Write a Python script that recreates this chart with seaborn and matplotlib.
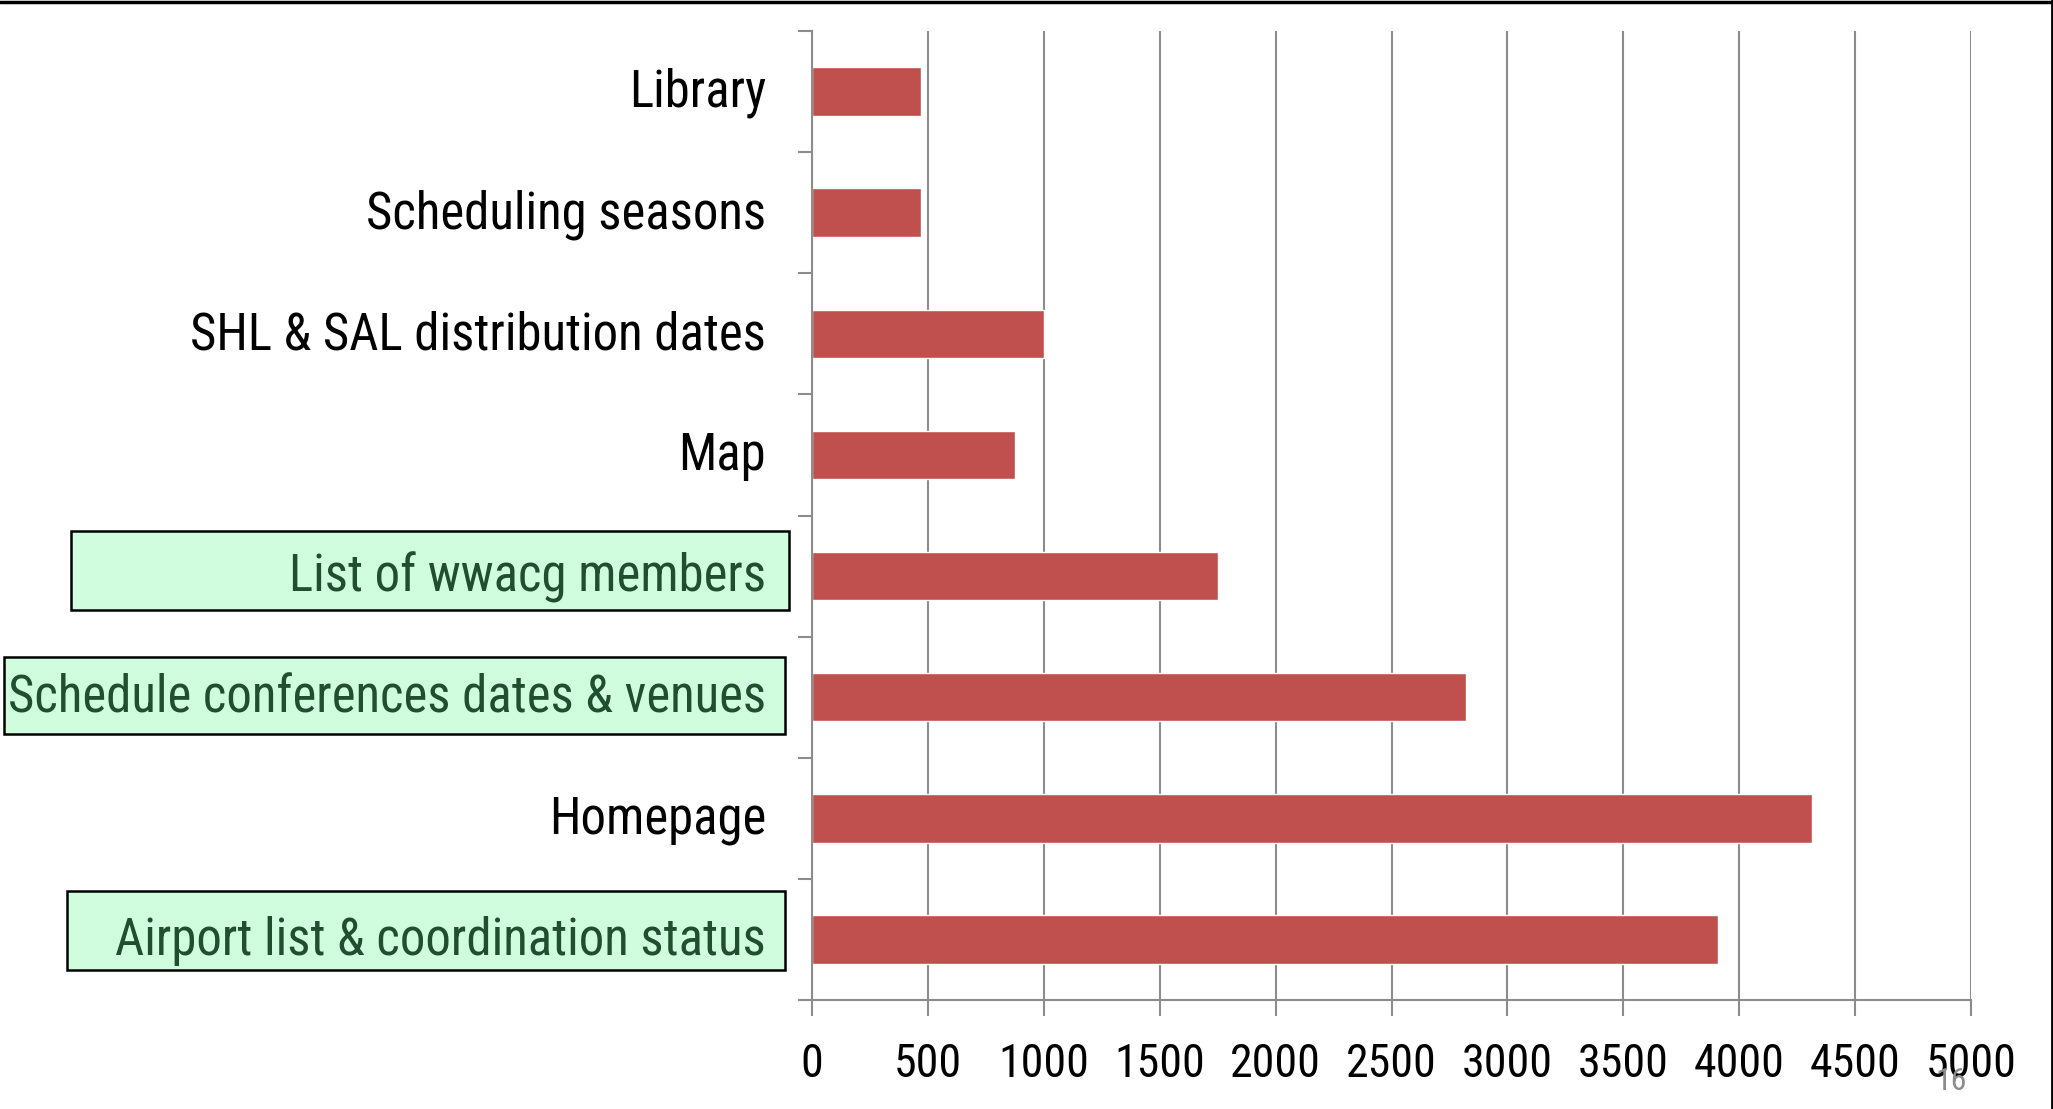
import matplotlib
matplotlib.use("Agg")
import numpy as np
import pandas as pd
import matplotlib.pyplot as plt
import matplotlib.transforms as mtransforms
import seaborn as sns
from matplotlib.patches import Rectangle
from matplotlib.lines import Line2D

# page visits, top to bottom as shown
categories = [
    "Library",
    "Scheduling seasons",
    "SHL & SAL distribution dates",
    "Map",
    "List of wwacg members",
    "Schedule conferences dates & venues",
    "Homepage",
    "Airport list & coordination status",
]
visits = [470, 470, 1000, 875, 1750, 2820, 4315, 3910]
highlighted = [
    "List of wwacg members",
    "Schedule conferences dates & venues",
    "Airport list & coordination status",
]
x_ticks = list(range(0, 5001, 500))
page_number = "16"

W, H = 2053, 1109
GRAY = "#8c8c8c"
BAR_RED = "#C0504D"
BOX_GREEN = "#D1FDDF"
TEXT_GREEN = "#1F4F2E"

sns.set_style("white")
plt.rcParams['font.family'] = ['Roboto Condensed', 'DejaVu Sans']

fig = plt.figure(figsize=(W / 100, H / 100), dpi=100)
ax = fig.add_axes([812 / W, 1 - 1000 / H, (1971 - 812) / W, (1000 - 31) / H])

df = pd.DataFrame({'page': categories, 'visits': visits})
sns.barplot(data=df, x='visits', y='page', orient='h', color=BAR_RED,
            saturation=1, width=0.4, ax=ax)

ax.set_xlim(0, 5000)
ax.set_xticks(x_ticks)
ax.set_ylim(len(categories) - 0.5, -0.5)
ax.set_xlabel('')
ax.set_ylabel('')

ax.grid(axis='x', color=GRAY, lw=1.5)
ax.grid(axis='y', visible=False)
ax.set_axisbelow(True)
for side in ['top', 'right']:
    ax.spines[side].set_visible(False)
for side in ['left', 'bottom']:
    ax.spines[side].set_color(GRAY)
    ax.spines[side].set_linewidth(1.5)

# tick marks sit on the category boundaries
ax.set_yticks(np.arange(-0.5, len(categories)), minor=True)
ax.tick_params(axis='y', which='minor', length=10, width=1.5, color=GRAY, left=True)
ax.tick_params(axis='y', which='major', length=0, pad=33, labelsize=36.5,
               labelcolor='black')
ax.tick_params(axis='x', which='major', length=11.5, width=1.5, color=GRAY,
               pad=19, labelsize=33, bottom=True, labelcolor='black')

# nudge category labels up a little
lift = mtransforms.ScaledTranslation(0, 3 / 72, fig.dpi_scale_trans)
for tl in ax.get_yticklabels():
    tl.set_transform(tl.get_transform() + lift)
    if tl.get_text() in highlighted:
        tl.set_color(TEXT_GREEN)

# green highlight boxes behind some labels (figure pixels: x0, y0, x1, y1)
boxes = {
    "List of wwacg members": (71, 531, 789, 610),
    "Schedule conferences dates & venues": (4, 657, 785, 734),
    "Airport list & coordination status": (67, 891, 785, 970),
}
for name, (x0, y0, x1, y1) in boxes.items():
    fig.patches.append(Rectangle((x0 / W, 1 - y1 / H), (x1 - x0) / W, (y1 - y0) / H,
                                 transform=fig.transFigure, facecolor=BOX_GREEN,
                                 edgecolor='black', lw=1.8, zorder=-1))

# slide frame
fig.add_artist(Line2D([0, 1], [1 - 1.5 / H] * 2, color='black', lw=2.5,
                      transform=fig.transFigure))
fig.add_artist(Line2D([2051.5 / W] * 2, [0, 1], color='black', lw=2,
                      transform=fig.transFigure))

fig.text(1951 / W, 1 - 1082 / H, page_number, color=GRAY, fontsize=23,
         ha='center', va='center')

fig.savefig('out.png', dpi=100)
